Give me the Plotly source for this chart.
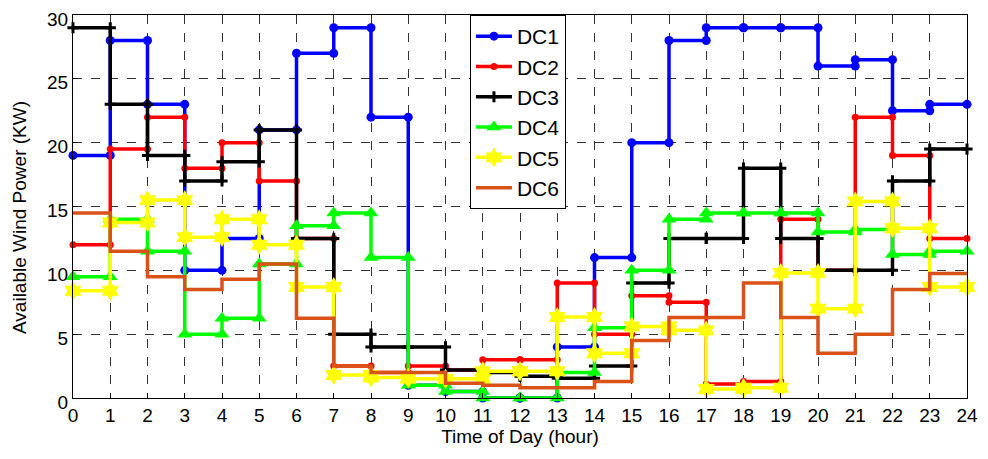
import plotly.graph_objects as go

hours = list(range(25))
hour_labels = [str(h) for h in hours]
y_ticks = [0, 5, 10, 15, 20, 25, 30]

series_names = ["DC1", "DC2", "DC3", "DC4", "DC5", "DC6"]

dc1 = [19, 28, 23, 10, 12.5, 21, 27, 29, 22, 1.0, 0.5, 0, 0, 4, 11, 20, 28, 29, 29, 29, 26, 26.5, 22.5, 23]
dc2 = [12, 19.5, 22, 18, 20, 17, 12.5, 2.5, 2.0, 2.5, 2.2, 3, 3, 9, 5, 8, 7.5, 1.1, 1.3, 14, 10, 22, 19, 12.5]
dc3 = [29, 23, 19, 17, 18.5, 21, 12.5, 5, 4, 4, 2.2, 2.0, 1.7, 1.55, 2.5, 9, 12.5, 12.5, 18, 12.5, 10, 10, 17, 19.5]
dc4 = [9.5, 14, 11.5, 5, 6.25, 10.5, 13.5, 14.5, 11, 1.0, 0.5, 0, 0, 2, 5.5, 10, 14, 14.5, 14.5, 14.5, 13, 13.2, 11.25, 11.5]
dc5 = [8.4, 13.75, 15.5, 12.6, 14, 12, 8.7, 1.8, 1.6, 1.5, 1.5, 2.1, 2.1, 6.35, 3.5, 5.6, 5.3, 0.7, 0.8, 9.8, 7, 15.4, 13.3, 8.7]
dc6 = [14.5, 11.5, 9.5, 8.5, 9.3, 10.5, 6.25, 2.5, 2.0, 2.0, 1.15, 1.0, 0.8, 0.8, 1.3, 4.5, 6.3, 6.3, 9.0, 6.3, 3.5, 5.0, 8.5, 9.75]

all_values = [dc1, dc2, dc3, dc4, dc5, dc6]

colors = ["#0000FF", "#FF0000", "#000000", "#00FF00", "#FFFF00", "#D95319"]
markers = [
    dict(symbol="circle", size=9),
    dict(symbol="circle", size=7),
    dict(symbol="cross-thin", size=8, line=dict(width=3)),
    dict(symbol="triangle-up", size=13),
    dict(symbol="hexagram", size=15),
    dict(symbol="circle", size=2),
]


def step_xy(vals):
    xs, ys = [], []
    for i, v in enumerate(vals):
        xs += [hours[i], hours[i + 1]]
        ys += [v, v]
    return xs, ys


fig = go.Figure()
for name, vals, col, mk in zip(series_names, all_values, colors, markers):
    xs, ys = step_xy(vals)
    m = dict(mk)
    m["color"] = col
    if "line" in m:
        m["line"] = dict(m["line"], color=col)
    fig.add_trace(go.Scatter(
        x=xs, y=ys, mode="lines+markers", name=name,
        line=dict(color=col, width=3.5),
        marker=m, cliponaxis=False,
    ))

axis_common = dict(
    showline=True, linecolor="black", linewidth=1.2, mirror=True,
    showgrid=True, gridcolor="#333333", griddash="dash", gridwidth=1,
    ticks="inside", ticklen=5, tickcolor="black",
    tickfont=dict(family="Liberation Sans, Arial", size=19, color="black"),
    zeroline=False, automargin=False, ticklabeloverflow="allow",
)

fig.update_layout(
    width=988, height=459,
    margin=dict(l=65, r=29, t=7, b=69),
    paper_bgcolor="white", plot_bgcolor="white",
    font=dict(family="Liberation Sans, Arial", color="black"),
    xaxis=dict(axis_common, range=[0, 24], tickmode="array", tickvals=hours, ticktext=hour_labels,
               title=dict(text="Time of Day (hour)", font=dict(size=19), standoff=2)),
    yaxis=dict(axis_common, range=[0, 30], tickmode="array", tickvals=y_ticks, ticklabelshift=4),
    annotations=[dict(
        text="Available Wind Power (KW)", textangle=-90, showarrow=False,
        xref="paper", yref="paper", x=0, y=0.47, xanchor="center", yanchor="middle",
        xshift=-53, font=dict(size=19, family="Liberation Sans, Arial", color="black"),
    )],
    legend=dict(
        x=0.444, y=1.0, xanchor="left", yanchor="top",
        bgcolor="white", bordercolor="black", borderwidth=1,
        font=dict(size=21, family="Liberation Sans, Arial"),
        tracegroupgap=0, itemwidth=36,
    ),
    showlegend=True,
)

fig.write_html("out.html")
